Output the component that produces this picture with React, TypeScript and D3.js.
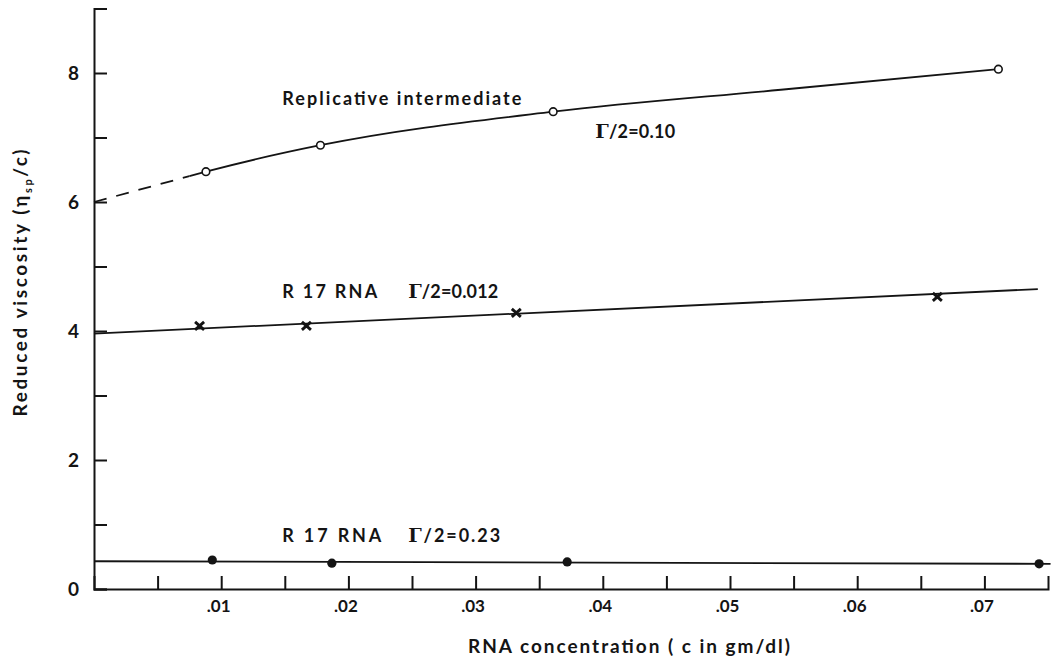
import { useEffect, useRef } from 'react'
import * as d3 from 'd3'

const W = 1061
const H = 663

// Replicative intermediate, Γ/2 = 0.10 (open circles)
const riConc = [0.0088, 0.0178, 0.0361, 0.0711]
const riVisc = [6.47, 6.88, 7.40, 8.06]
// drawn curve through the points, and its dashed extrapolation to c = 0
const riCurveConc = [0.0075, 0.0088, 0.0178, 0.0361, 0.0540, 0.0711]
const riCurveVisc = [6.40, 6.47, 6.88, 7.40, 7.74, 8.06]
const riExtrapConc = [0, 0.0075]
const riExtrapVisc = [6.0, 6.40]

// R 17 RNA, Γ/2 = 0.012 (crosses)
const lowSaltConc = [0.0083, 0.0167, 0.0332, 0.0663]
const lowSaltVisc = [4.08, 4.08, 4.28, 4.53]
const lowSaltFitConc = [0, 0.0742]
const lowSaltFitVisc = [3.96, 4.65]

// R 17 RNA, Γ/2 = 0.23 (filled dots)
const highSaltConc = [0.0093, 0.0187, 0.0372, 0.0743]
const highSaltVisc = [0.45, 0.40, 0.42, 0.39]
const highSaltFitConc = [0, 0.0752]
const highSaltFitVisc = [0.43, 0.39]

const xTicks = [0.005, 0.01, 0.015, 0.02, 0.025, 0.03, 0.035, 0.04, 0.045, 0.05, 0.055, 0.06, 0.065, 0.07]
const xLabels = [0.01, 0.02, 0.03, 0.04, 0.05, 0.06, 0.07]
const yTicks = [0, 1, 2, 3, 4, 5, 6, 7, 8, 9]
const yLabels = [0, 2, 4, 6, 8]

const INK = '#141414'
const FONT = 'Lato, "DejaVu Sans", sans-serif'

export default function App() {
  const svgRef = useRef<SVGSVGElement>(null)

  useEffect(() => {
    if (!svgRef.current) return
    const svg = d3.select(svgRef.current)
    svg.selectAll('*').remove()

    const x = d3.scaleLinear().domain([0, 0.075]).range([94, 1048])
    const y = d3.scaleLinear().domain([0, 9]).range([589, 8.5])

    svg.append('rect').attr('width', W).attr('height', H).attr('fill', '#fff')

    // X axis, ticks pointing up into the plot
    svg.append('g')
      .attr('transform', `translate(0,${y(0)})`)
      .call(d3.axisBottom(x).tickValues(xTicks).tickSizeInner(-13).tickSizeOuter(-13).tickPadding(11)
        .tickFormat(d => xLabels.includes(+d) ? d3.format('.2f')(+d).replace(/^0/, '') : ''))
      .call(ax => ax.select('.domain').attr('stroke', INK).attr('stroke-width', 2))
      .call(ax => ax.selectAll('.tick line').attr('stroke', INK).attr('stroke-width', 2))
      .selectAll('text')
      .attr('fill', INK).attr('font-family', FONT).attr('font-size', '17px').attr('font-weight', 700).attr('dx', '-3')

    // Y axis
    svg.append('g')
      .attr('transform', `translate(${x(0)},0)`)
      .call(d3.axisLeft(y).tickValues(yTicks).tickSizeInner(-13).tickSizeOuter(-13).tickPadding(15)
        .tickFormat(d => yLabels.includes(+d) ? String(d) : ''))
      .call(ax => ax.select('.domain').attr('stroke', INK).attr('stroke-width', 2))
      .call(ax => ax.selectAll('.tick line').attr('stroke', INK).attr('stroke-width', 2))
      .selectAll('text')
      .attr('fill', INK).attr('font-family', FONT).attr('font-size', '19px').attr('font-weight', 700)

    const line = d3.line<[number, number]>().x(d => x(d[0])).y(d => y(d[1]))
    const plot = svg.append('g').attr('fill', 'none').attr('stroke', INK).attr('stroke-width', 1.8)

    plot.append('path').attr('d', line.curve(d3.curveLinear)(d3.zip(riExtrapConc, riExtrapVisc) as [number, number][]))
      .attr('stroke-dasharray', '13,10')
    plot.append('path').attr('d', line.curve(d3.curveMonotoneX)(d3.zip(riCurveConc, riCurveVisc) as [number, number][]))
    plot.append('path').attr('d', line.curve(d3.curveLinear)(d3.zip(lowSaltFitConc, lowSaltFitVisc) as [number, number][]))
    plot.append('path').attr('d', line.curve(d3.curveLinear)(d3.zip(highSaltFitConc, highSaltFitVisc) as [number, number][]))

    // Markers
    d3.zip(riConc, riVisc).forEach(([c, v]) => {
      svg.append('circle').attr('cx', x(c)).attr('cy', y(v)).attr('r', 3.8)
        .attr('fill', '#fff').attr('stroke', INK).attr('stroke-width', 1.6)
    })
    d3.zip(lowSaltConc, lowSaltVisc).forEach(([c, v]) => {
      svg.append('path').attr('transform', `translate(${x(c)},${y(v)})`)
        .attr('d', 'M-4.5,-4L4.5,4M-4.5,4L4.5,-4')
        .attr('stroke', INK).attr('stroke-width', 2.9).attr('fill', 'none')
    })
    d3.zip(highSaltConc, highSaltVisc).forEach(([c, v]) => {
      svg.append('circle').attr('cx', x(c)).attr('cy', y(v)).attr('r', 4.6).attr('fill', INK)
    })

    // Annotations
    const label = (cx: number, vy: number, len: number) =>
      svg.append('text').attr('x', x(cx)).attr('y', y(vy))
        .attr('fill', INK).attr('font-family', FONT).attr('font-size', '18px').attr('font-weight', 700)
        .attr('textLength', len).attr('lengthAdjust', 'spacing')
    const gamma = (t: d3.Selection<SVGTextElement, unknown, null, undefined>, rest: string) => {
      t.append('tspan').attr('font-family', '"DejaVu Serif", "Liberation Serif", serif').attr('font-size', '19px').text('Γ')
      t.append('tspan').text(rest)
    }

    label(0.0148, 7.50, 239).text('Replicative intermediate')
    gamma(label(0.0394, 6.99, 80), '/2=0.10')
    label(0.0148, 4.51, 95).text('R 17 RNA')
    gamma(label(0.0247, 4.51, 90), '/2=0.012')
    label(0.0148, 0.73, 99).text('R 17 RNA')
    gamma(label(0.0247, 0.73, 92), '/2=0.23')

    // Axis titles
    svg.append('text').attr('x', 468).attr('y', 653)
      .attr('fill', INK).attr('font-family', FONT).attr('font-size', '19px').attr('font-weight', 700)
      .attr('textLength', 322).attr('lengthAdjust', 'spacing')
      .text('RNA concentration ( c in gm/dl)')

    const yt = svg.append('text').attr('transform', 'translate(27,283) rotate(-90)')
      .attr('text-anchor', 'middle')
      .attr('fill', INK).attr('font-family', FONT).attr('font-size', '19px').attr('font-weight', 700)
      .attr('textLength', 267).attr('lengthAdjust', 'spacing')
    yt.append('tspan').text('Reduced viscosity (η')
    yt.append('tspan').attr('font-size', '11px').attr('dy', '5').text('sp')
    yt.append('tspan').attr('dy', '-5').text('/c)')
  }, [])

  return (
    <svg ref={svgRef} width={W} height={H}
      style={{ position: 'absolute', left: 0, top: 0, display: 'block' }} />
  )
}
